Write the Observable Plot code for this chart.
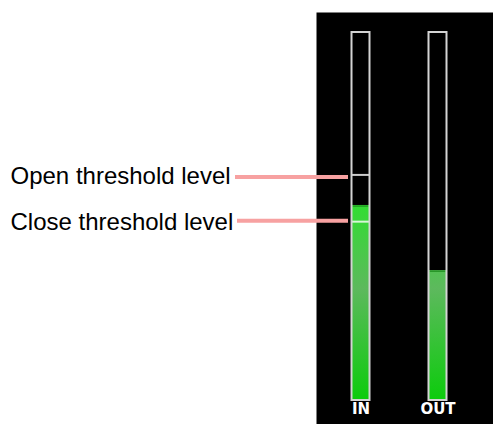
<!DOCTYPE html>
<html>
<head>
<meta charset="utf-8">
<script src="https://cdn.jsdelivr.net/npm/d3@7"></script>
<script src="https://cdn.jsdelivr.net/npm/@observablehq/plot@0.6"></script>
<style>
  html, body { margin: 0; padding: 0; background: white; }
</style>
</head>
<body>
<div id="chart"></div>
<script>
// Meter data
const meters = ["IN", "OUT"];
const levels = [53, 35.3];
const meterMax = 100;

// Threshold annotations (on the IN meter)
const thresholdLabels = ["Open threshold level", "Close threshold level"];
const thresholdValues = [61.3, 48.6];

const meterData = meters.map((m, i) => ({meter: m, level: levels[i], max: meterMax}));
const thresholds = thresholdLabels.map((t, i) => ({label: t, value: thresholdValues[i], meter: "IN"}));

const pink = "#f7a1a1";

// gradient defs drawn through the y scale
const gradientDefs = (index, scales) => {
  const defs = d3.create("svg:defs");
  const g = defs.append("linearGradient")
    .attr("id", "meterGreen")
    .attr("gradientUnits", "userSpaceOnUse")
    .attr("x1", 0).attr("x2", 0)
    .attr("y1", scales.y(55)).attr("y2", scales.y(0));
  g.append("stop").attr("offset", 0).attr("stop-color", "#2ee02e");
  g.append("stop").attr("offset", 0.45).attr("stop-color", "#5db95d");
  g.append("stop").attr("offset", 1).attr("stop-color", "#0ccc0c");
  return defs.node();
};

const chart = Plot.plot({
  width: 493,
  height: 424,
  marginLeft: 316,
  marginTop: 12,
  marginRight: 0,
  marginBottom: 0,
  style: {background: "white", overflow: "visible"},
  x: {type: "band", domain: meters, range: [351, 448], paddingInner: 0.748, paddingOuter: 0, axis: null},
  y: {domain: [0, meterMax], range: [400, 32], axis: null},
  marks: [
    Plot.frame({fill: "black", stroke: "none"}),
    gradientDefs,
    // level bars
    Plot.barY(meterData, {x: "meter", y1: 0, y2: "level", fill: "url(#meterGreen)", insetLeft: 1, insetRight: 1}),
    Plot.tickY(meterData, {x: "meter", y: "level", stroke: "#1e8c1e", strokeWidth: 1.2, insetLeft: 1.5, insetRight: 1.5, dy: 0.6}),
    // threshold ticks inside the IN meter
    Plot.tickY(thresholds, {x: "meter", y: "value", stroke: "white", strokeOpacity: 0.8, strokeWidth: 2}),
    // meter outlines
    Plot.barY(meterData, {x: "meter", y1: 0, y2: "max", fill: "none", stroke: "#d4d4d4", strokeWidth: 2, insetLeft: 0.5, insetRight: 0.5}),
    // meter names
    Plot.text(meters, {x: d => d, text: d => d, frameAnchor: "bottom", dy: -11, fill: "white",
      fontWeight: "bold", fontSize: 15, fontFamily: "DejaVu Sans"}),
    // annotation leader lines
    Plot.ruleY(thresholds.filter((d, i) => i === 0), {y: "value", stroke: pink, strokeWidth: 4, insetLeft: -81, insetRight: 145, dy: 2}),
    Plot.ruleY(thresholds.filter((d, i) => i === 1), {y: "value", stroke: pink, strokeWidth: 4, insetLeft: -79, insetRight: 145, dy: -1}),
    // annotation labels
    Plot.text(thresholds, {y: "value", text: "label", frameAnchor: "left", textAnchor: "start", dx: -306, dy: 1,
      fill: "black", fontSize: 24, fontFamily: "Liberation Sans, Arial, sans-serif"})
  ]
});

document.getElementById("chart").appendChild(chart);
</script>
</body>
</html>
